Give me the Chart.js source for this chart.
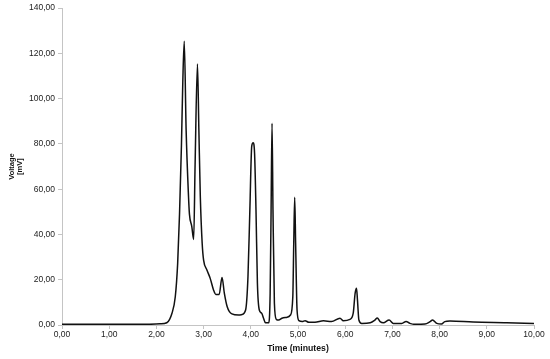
<!DOCTYPE html>
<html>
<head>
<meta charset="utf-8">
<script src="https://cdn.jsdelivr.net/npm/chart.js@4"></script>
<style>
  html, body { margin: 0; padding: 0; background: #fff; }
  #wrap { width: 550px; height: 359px; }
</style>
</head>
<body>
<div id="wrap"><canvas id="chromatogram"></canvas></div>
<script>
// retention time (minutes) and detector signal (mV)
const times = [
  0.00, 1.00, 1.80, 2.08, 2.22, 2.33, 2.40, 2.45, 2.49, 2.53, 2.56, 2.59, 2.63, 2.68, 2.70,
  2.75, 2.79, 2.82, 2.87, 2.90, 2.93, 2.97, 3.00, 3.07, 3.14, 3.21, 3.26, 3.33, 3.39, 3.44,
  3.50, 3.60, 3.74, 3.81, 3.89, 3.94, 3.98, 4.02, 4.05, 4.08, 4.11, 4.14, 4.18, 4.23, 4.27,
  4.31, 4.38, 4.41, 4.43, 4.45, 4.47, 4.50, 4.54, 4.59, 4.66, 4.77, 4.84, 4.89, 4.91, 4.93,
  4.95, 4.98, 5.02, 5.09, 5.15, 5.23, 5.36, 5.54, 5.71, 5.89, 5.96, 6.10, 6.17, 6.21, 6.24,
  6.26, 6.29, 6.35, 6.53, 6.63, 6.68, 6.74, 6.81, 6.93, 7.02, 7.20, 7.29, 7.37, 7.48, 7.69,
  7.80, 7.85, 7.94, 8.04, 8.11, 8.22, 8.71, 9.42, 10.00
];
const voltages = [
  0.3, 0.3, 0.3, 0.5, 1.0, 5.2, 12.5, 27, 49, 79, 108, 125.4, 86, 57, 49,
  43.5, 37.8, 71, 115.3, 86, 57, 36, 28.7, 24.3, 20.6, 15.5, 13.5, 13.5, 21, 14,
  8.1, 4.9, 4.4, 4.6, 6.6, 21.3, 50.8, 79, 80.5, 75.8, 50.8, 18.4, 6.6, 5.2, 3,
  1, 1, 14, 50.8, 89.1, 50.8, 9.6, 2.5, 2.2, 3, 3.4, 4.4, 12.5, 36, 56.4,
  36, 6.6, 1.9, 1.5, 1.9, 1.2, 1.2, 1.9, 1.5, 3, 1.9, 2.5, 5.2, 14, 16.2,
  11, 2.2, 0.7, 1, 2.2, 3.1, 1.5, 1, 2.2, 0.7, 0.7, 1.6, 0.7, 0.3, 0.4,
  1.5, 2.2, 0.7, 0.4, 1.5, 1.8, 1.3, 1.0, 0.7
];

const xTitle = "Time (minutes)";
const yTitle = ["Voltage", "[mV]"];

const fmt = (v) => v.toFixed(2).replace(".", ",");

const points = times.map((t, i) => ({ x: t, y: voltages[i] }));

const axisGray = "#c4c4c4";

new Chart(document.getElementById("chromatogram"), {
  type: "line",
  data: {
    datasets: [
      {
        data: points,
        borderColor: "#111",
        borderWidth: 1.5,
        pointRadius: 0,
        cubicInterpolationMode: "monotone",
        fill: false
      }
    ]
  },
  options: {
    responsive: true,
    maintainAspectRatio: false,
    animation: false,
    layout: { padding: { top: 8, right: 16, bottom: 0, left: 0 } },
    plugins: { legend: { display: false }, tooltip: { enabled: false } },
    scales: {
      x: {
        type: "linear",
        min: 0,
        max: 10,
        afterFit: (scale) => { scale.height = 34; },
        border: { color: axisGray, width: 1 },
        grid: { drawOnChartArea: false, drawTicks: true, tickLength: 4, color: axisGray },
        ticks: {
          stepSize: 1,
          padding: 1,
          color: "#222",
          font: { family: "Liberation Sans, Arial", size: 8.5 },
          callback: (v) => fmt(v),
          maxRotation: 0
        },
        title: {
          display: true,
          text: xTitle,
          color: "#111",
          font: { family: "Liberation Sans, Arial", size: 8.7, weight: "bold", lineHeight: 1.2 },
          padding: { top: 0, bottom: 5 }
        }
      },
      y: {
        min: 0,
        max: 140,
        afterFit: (scale) => { scale.width = 62; },
        border: { color: axisGray, width: 1 },
        grid: { drawOnChartArea: false, drawTicks: true, tickLength: 4, color: axisGray },
        ticks: {
          stepSize: 20,
          padding: 3,
          color: "#222",
          font: { family: "Liberation Sans, Arial", size: 8.5 },
          callback: (v) => fmt(v)
        },
        title: {
          display: true,
          text: yTitle,
          color: "#111",
          font: { family: "Liberation Sans, Arial", size: 7.5, weight: "bold", lineHeight: 1.1 },
          padding: { top: 8, bottom: 0 }
        }
      }
    }
  }
});
</script>
</body>
</html>
